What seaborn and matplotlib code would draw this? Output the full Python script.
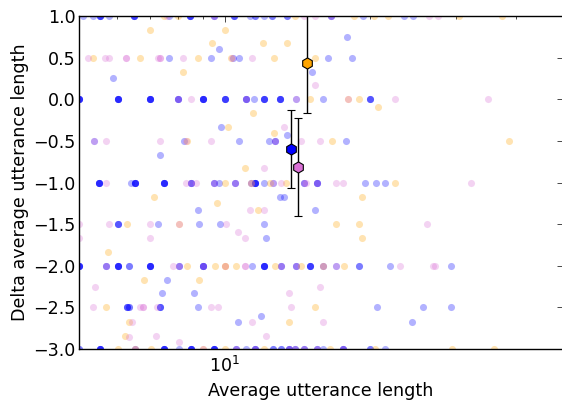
import numpy as np
import pandas as pd
import matplotlib
matplotlib.use("Agg")
import matplotlib.pyplot as plt
import seaborn as sns
from matplotlib.ticker import LogLocator, FixedLocator, NullFormatter

# ---------------- data ----------------
blue_x = [5.10, 5.34, 5.52, 5.77, 6.49, 7.67, 8.47, 9.49, 10.43, 11.26, 11.53, 12.03, 12.50, 13.42, 16.62, 19.35, 23.50, 24.53,
          9.72, 17.93, 7.67, 9.36, 10.40, 10.69, 16.31, 18.36, 15.18, 5.88,
          5.0, 6.02, 7.0, 8.0, 9.0, 10.0, 11.05, 11.48, 12.03, 12.98, 14.01, 16.0, 20.0,
          9.81, 13.42, 5.37, 8.23, 10.69, 12.32, 12.68, 17.85, 7.34,
          5.50, 6.40, 6.52, 7.49, 8.51, 9.49, 9.72, 10.48, 11.31, 11.53, 12.03, 12.56, 14.55, 15.55, 19.53, 20.58, 21.48,
          12.98, 13.23, 8.80, 15.40, 6.02, 7.27, 8.84, 9.76, 12.03, 12.20,
          5.0, 5.68, 6.02, 6.34, 7.0, 8.04, 9.0, 11.37, 12.03, 13.05, 14.01, 15.04, 16.0, 17.02, 18.98, 21.99, 29.38,
          7.60, 7.42, 8.63, 6.28, 6.34, 7.34, 8.80, 20.68, 25.72, 29.38, 11.86, 10.64, 24.42,
          5.0, 5.52, 6.52, 7.49, 8.04, 8.51, 9.49, 10.54, 11.05, 11.53, 12.56, 13.05, 13.55, 13.94, 14.55, 15.55, 16.0,
          17.52, 20.0, 21.48]
blue_y = [1.0] * 18 + \
         [0.6, 0.75, 0.5, 0.5, 0.5, 0.5, 0.5, 0.5, 0.33, 0.25] + \
         [0.0] * 13 + \
         [-0.33, -0.43, -0.5, -0.5, -0.5, -0.5, -0.5, -0.5, -0.67] + \
         [-1.0] * 17 + \
         [-1.17, -1.17, -1.33, -1.33, -1.5, -1.5, -1.5, -1.5, -1.5, -1.67] + \
         [-2.0] * 17 + \
         [-2.17, -2.33, -2.33, -2.5, -2.5, -2.5, -2.5, -2.5, -2.5, -2.5, -2.6, -2.67, -2.67] + \
         [-3.0] * 20
blue_n = [1, 1, 4, 1, 4, 1, 4, 2, 3, 1, 2, 1, 2, 2, 2, 1, 1, 1,
          1, 1, 1, 1, 1, 1, 1, 1, 1, 1,
          5, 5, 5, 3, 5, 4, 3, 1, 4, 4, 1, 1, 3,
          1, 1, 1, 1, 1, 1, 2, 1, 1,
          5, 1, 5, 5, 3, 2, 1, 2, 1, 5, 1, 1, 2, 3, 1, 1, 1,
          1, 1, 1, 1, 3, 1, 1, 1, 1, 1,
          5, 2, 5, 2, 5, 2, 4, 1, 5, 2, 2, 4, 1, 1, 2, 1, 1,
          1, 1, 1, 3, 2, 3, 1, 1, 1, 1, 1, 1, 1,
          2, 5, 1, 5, 1, 5, 5, 2, 1, 3, 2, 2, 3, 2, 2, 2, 1, 3, 2, 1]

orange_x = [7.49, 8.0, 13.94, 18.54, 20.38, 21.78, 30.51, 37.44,
            7.0, 10.0, 9.40, 11.98, 13.42,
            5.34, 6.68, 8.80, 10.29, 12.62, 15.33, 8.19,
            15.04, 18.02, 18.98, 20.78, 11.42, 10.14, 12.62,
            8.35, 16.70, 38.70, 11.0,
            10.0, 11.31, 12.38, 13.36, 22.52,
            7.14, 19.26, 9.63, 11.70,
            6.28, 8.04, 17.02, 18.98, 19.26, 5.74,
            8.35, 9.54, 10.0, 10.0, 10.54, 12.68, 14.35, 16.0, 17.68,
            6.81, 8.84, 5.68, 15.40, 6.34, 13.61, 6.22,
            6.02, 6.52, 7.04, 9.0, 10.0, 12.03, 16.54, 20.48, 29.52, 36.04]
orange_y = [1.0] * 8 + \
           [0.83, 0.83, 0.67, 0.67, 0.67] + \
           [0.5] * 6 + [0.33] + \
           [0.0, 0.0, 0.0, -0.09, -0.17, -0.33, -0.4] + \
           [-0.5, -0.5, -0.5, -0.83] + \
           [-1.0] * 5 + \
           [-1.17, -1.17, -1.25, -1.33] + \
           [-1.5, -1.5, -1.5, -1.5, -1.67, -1.83] + \
           [-2.0] * 9 + \
           [-2.17, -2.17, -2.5, -2.5, -2.67, -2.67, -2.84] + \
           [-3.0] * 10

violet_x = [7.60, 9.49, 14.55, 15.33, 16.62, 26.47, 27.62,
            5.22, 5.66, 5.77, 6.25, 6.25, 7.27, 7.34, 7.34, 8.19, 10.34, 11.37,
            15.33,
            8.0, 8.51, 11.05, 14.01, 18.02, 22.52, 35.03,
            13.23,
            5.37, 5.68, 7.34, 8.31, 9.36, 12.68, 14.35, 15.77,
            12.03,
            5.68, 8.31, 8.51, 8.71, 9.49, 10.48, 11.31, 12.56, 13.05, 14.55, 14.69, 15.55, 17.02, 17.52, 32.30,
            11.26, 12.03,
            5.0, 5.77, 7.0, 8.04, 10.05, 26.22,
            10.64, 5.0, 7.0, 11.0,
            5.68, 7.81, 8.04, 9.0, 10.0, 11.0, 11.0, 13.05, 14.01, 16.0, 17.02, 23.06, 26.98, 27.23,
            5.40, 15.70, 13.55,
            5.34, 6.68, 6.78, 6.78, 7.24, 9.36, 9.67, 13.68,
            6.43, 11.37, 16.0,
            6.34, 7.21, 12.20, 8.04,
            6.52, 9.0, 10.54, 11.53, 13.55, 13.94, 14.55, 15.55, 17.52]
violet_y = [1.0] * 7 + \
           [0.5] * 11 + [0.17] + \
           [0.0] * 7 + [-0.33] + \
           [-0.5] * 8 + [-0.83] + \
           [-1.0] * 15 + \
           [-1.33, -1.33] + \
           [-1.5] * 6 + \
           [-1.6, -1.67, -1.67, -1.67] + \
           [-2.0] * 14 + \
           [-2.26, -2.26, -2.33] + \
           [-2.5] * 8 + \
           [-2.67] * 3 + \
           [-2.86, -2.84, -2.84, -2.92] + \
           [-3.0] * 9

# group means with error bars
mean_labels = ["blue", "orange", "violet"]
mean_x = [13.7, 14.8, 14.2]
mean_y = [-0.60, 0.435, -0.81]
mean_err = [0.47, 0.60, 0.59]

y_ticks = [1.0, 0.5, 0.0, -0.5, -1.0, -1.5, -2.0, -2.5, -3.0]

# ---------------- style ----------------
sns.set_style("white")
plt.rcParams.update({
    "font.family": ["DejaVu Sans"],
    "font.size": 12.6,
    "text.color": "black", "axes.labelcolor": "black",
    "xtick.direction": "in", "ytick.direction": "in",
    "xtick.top": True, "ytick.right": True,
    "xtick.major.size": 4, "ytick.major.size": 4,
    "xtick.minor.size": 2, "ytick.minor.size": 2,
    "xtick.major.width": 0.5, "ytick.major.width": 0.5,
    "xtick.minor.width": 0.5, "ytick.minor.width": 0.5,
    "xtick.major.pad": 5, "ytick.major.pad": 2.5,
    "xtick.labelsize": 12.6, "ytick.labelsize": 12.6,
    "axes.labelsize": 12.6,
    "axes.edgecolor": "black", "axes.linewidth": 1.0,
    "xtick.color": "black", "ytick.color": "black",
    "xtick.labelcolor": "black", "ytick.labelcolor": "black",
})

fig = plt.figure(figsize=(5.62, 4.03), dpi=100)
ax = fig.add_axes([79 / 562, 1 - 349 / 403, 484 / 562, 333 / 403])

colors = {"blue": "#0000ff", "orange": "#ffa500", "violet": "#da70d6"}

bx = np.repeat(blue_x, blue_n)
by = np.repeat(blue_y, blue_n)
for xs, ys, c in [(bx, by, colors["blue"]),
                  (orange_x, orange_y, colors["orange"]),
                  (violet_x, violet_y, colors["violet"])]:
    df = pd.DataFrame({"x": xs, "y": ys})
    sns.scatterplot(data=df, x="x", y="y", color=c, alpha=0.3, s=26,
                    linewidth=0, ax=ax, zorder=2)

for lab, mx, my, me in zip(mean_labels, mean_x, mean_y, mean_err):
    ax.errorbar(mx, my, yerr=me, fmt="h", color=colors[lab], ecolor="black",
                markeredgecolor="black", markeredgewidth=0.8, markersize=8,
                elinewidth=1, capsize=3, capthick=1, zorder=5)

ax.set_xscale("log")
ax.set_xlim(5, 50)
ax.set_ylim(-3, 1)
ax.set_yticks(y_ticks)
ax.xaxis.set_major_locator(FixedLocator([10]))
ax.xaxis.set_minor_locator(LogLocator(base=10, subs=np.arange(2, 10)))
ax.xaxis.set_minor_formatter(NullFormatter())
ax.set_xlabel("Average utterance length", labelpad=4)
ax.set_ylabel("Delta average utterance length", labelpad=3)

fig.savefig("out.png", dpi=100, facecolor="white")
